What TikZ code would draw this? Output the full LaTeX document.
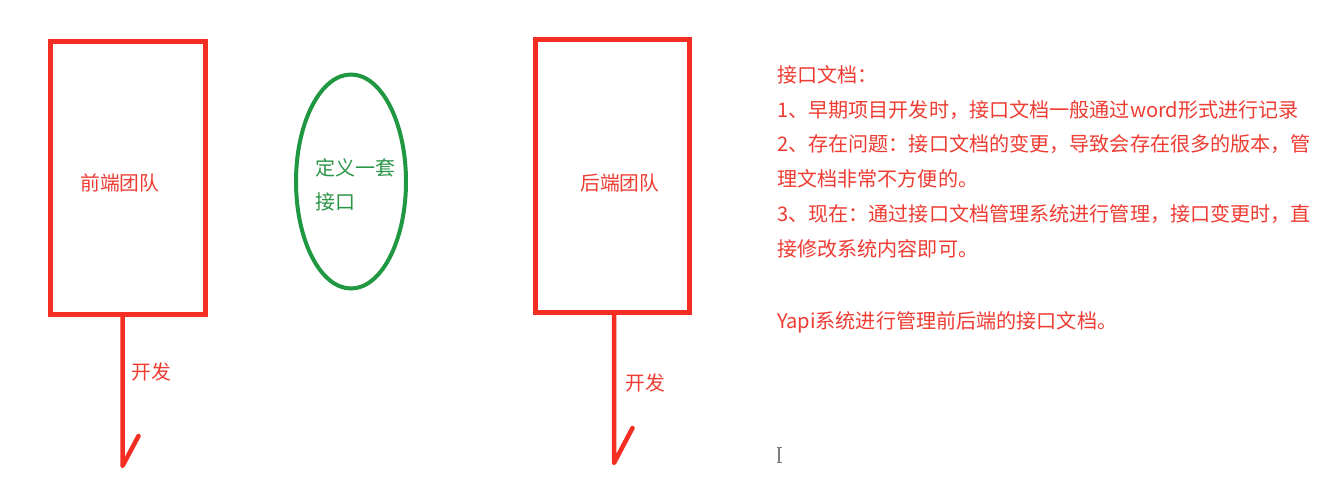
\documentclass[tikz,border=0pt]{standalone}
\usepackage{fontspec}
\newfontfamily\cjk{Noto Sans CJK SC}
\usetikzlibrary{shapes.geometric}
\definecolor{lred}{RGB}{244,46,34}
\definecolor{tred}{RGB}{238,60,50}
\definecolor{lgreen}{RGB}{32,152,66}
\definecolor{tgreen}{RGB}{44,150,72}
\definecolor{cursorgray}{RGB}{125,125,125}
\tikzset{
  team/.style={draw=lred, line width=5pt, inner sep=0pt, outer sep=0pt, rectangle},
  lbl/.style={text=tred, font=\cjk\fontsize{19.8}{24}\selectfont, inner sep=0pt, anchor=base west},
  note/.style={text=tred, font=\cjk\fontsize{20.1}{24}\selectfont, inner sep=0pt, anchor=base west},
  glbl/.style={text=tgreen, font=\cjk\fontsize{20}{24}\selectfont, inner sep=0pt, anchor=base west},
  devline/.style={draw=lred, line width=4.5pt, line cap=round, line join=round},
  iface/.style={ellipse, draw=lgreen, line width=4pt, inner sep=0pt, outer sep=0pt}
}
\begin{document}
\begin{tikzpicture}[x=1pt,y=-1pt]
\useasboundingbox[fill=white] (0,0) rectangle (1343,497);

% front-end team
\node[team, minimum width=155pt, minimum height=272.5pt] (fe) at (128,178.25) {};
\node[lbl] (fetext) at (80,190.5) {前端团队};
\coordinate (fend) at (122.5,466);
\coordinate (fhook) at (138.5,436);
\draw[devline] (fe.south -| fend) -- (fend) -- (fhook);
\node[lbl] (fedev) at (131,379.5) {开发};

% interface ellipse
\node[iface, minimum width=110pt, minimum height=214pt] (api) at (351,181.5) {};
\node[glbl] (api1) at (315,175.5) {定义一套};
\node[glbl] (api2) at (315,209.5) {接口};

% back-end team
\node[team, minimum width=154pt, minimum height=272pt] (be) at (612,176) {};
\node[lbl] (betext) at (580,190.5) {后端团队};
\coordinate (bend) at (614,463);
\coordinate (bhook) at (632.5,428);
\draw[devline] (be.south -| bend) -- (bend) -- (bhook);
\node[lbl] (bedev) at (625,390.5) {开发};

% notes
\node[note] (n0) at (777,82.5) {接口文档：};
\node[note] (n1) at (777,117.5) {1、早期项目开发时，接口文档一般通过word形式进行记录};
\node[note] (n2) at (777,152) {2、存在问题：接口文档的变更，导致会存在很多的版本，管};
\node[note] (n3) at (777,187) {理文档非常不方便的。};
\node[note] (n4) at (777,221.5) {3、现在：通过接口文档管理系统进行管理，接口变更时，直};
\node[note] (n5) at (777,256.5) {接修改系统内容即可。};
\node[note] (n6) at (777,328.5) {Yapi系统进行管理前后端的接口文档。};

% text cursor
\draw[cursorgray, line width=1.4pt] (779,448) -- (779,462);
\draw[cursorgray, line width=1.2pt] (776.5,447.5) -- (781.5,447.5);
\draw[cursorgray, line width=1.2pt] (776.5,462.5) -- (781.5,462.5);
\end{tikzpicture}
\end{document}
